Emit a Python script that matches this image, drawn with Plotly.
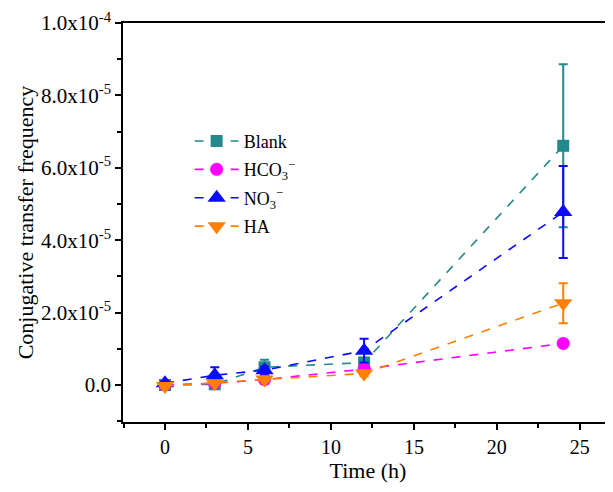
import plotly.graph_objects as go

time_h = [0, 3, 6, 12, 24]

blank = [0.0, 0.2e-6, 4.9e-6, 6.2e-6, 6.61e-5]
blank_err = [0.3e-6, 0.6e-6, 2.1e-6, 1.3e-6, 2.25e-5]

hco3 = [0.0, 0.5e-6, 1.5e-6, 4.4e-6, 1.15e-5]
hco3_err = [0.2e-6, 0.3e-6, 0.5e-6, 0.6e-6, 0.8e-6]

no3 = [0.5e-6, 2.7e-6, 4.1e-6, 9.5e-6, 4.78e-5]
no3_err = [0.5e-6, 2.2e-6, 1.0e-6, 3.3e-6, 1.27e-5]

ha = [-0.3e-6, 0.5e-6, 1.5e-6, 3.2e-6, 2.26e-5]
ha_err = [0.4e-6, 0.5e-6, 0.6e-6, 0.8e-6, 5.5e-6]

y_tickvals = [0, 2e-5, 4e-5, 6e-5, 8e-5, 1e-4]
y_ticktext = ["0.0", "2.0x10<sup>-5</sup>", "4.0x10<sup>-5</sup>", "6.0x10<sup>-5</sup>",
              "8.0x10<sup>-5</sup>", "1.0x10<sup>-4</sup>"]
x_tickvals = [0, 5, 10, 15, 20, 25]

series = [
    ("Blank", blank, blank_err, "#23898b", "square", 12),
    ("HCO<sub>3</sub><sup>−</sup>", hco3, hco3_err, "#ff00ff", "circle", 13),
    ("NO<sub>3</sub><sup>−</sup>", no3, no3_err, "#0a0aff", "triangle-up", 16),
    ("HA", ha, ha_err, "#ff8000", "triangle-down", 16),
]

fig = go.Figure()
for i, (name, vals, err, color, sym, size) in enumerate(series):
    fig.add_trace(go.Scatter(
        x=time_h, y=vals, name=name, mode="lines+markers", legendgroup=f"g{i}",
        line=dict(color=color, width=1.6, dash="dash"),
        marker=dict(symbol=sym, size=size, color=color),
        error_y=dict(type="data", array=err, visible=True, color=color,
                     thickness=2, width=4.5),
    ))

font_family = "Liberation Serif, Times New Roman, serif"
fig.update_layout(
    width=605, height=484,
    margin=dict(l=115, r=0, t=15, b=70),
    plot_bgcolor="white", paper_bgcolor="white",
    font=dict(family=font_family, size=18, color="black"),
    showlegend=True,
    legend=dict(x=0.136, y=0.75, xanchor="left", yanchor="top",
                bgcolor="rgba(0,0,0,0)", font=dict(size=18, family=font_family),
                tracegroupgap=2, itemwidth=44),
    xaxis=dict(
        range=[-2.53, 27.0], tickvals=x_tickvals, automargin=False,
        showline=True, linecolor="black", linewidth=1.5, mirror=True,
        ticks="outside", ticklen=6, tickwidth=1.5, tickcolor="black",
        minor=dict(dtick=2.5, tick0=0, ticks="outside", ticklen=4, tickwidth=1.5, tickcolor="black"),
        showgrid=False, zeroline=False,
        title=dict(text="Time (h)", font=dict(size=22), standoff=0),
        tickfont=dict(size=20),
    ),
    yaxis=dict(
        range=[-1.022e-5, 1.0003e-4], tickvals=y_tickvals, ticktext=y_ticktext, automargin=False,
        ticklabeloverflow="allow",
        showline=True, linecolor="black", linewidth=1.5, mirror=False,
        ticks="outside", ticklen=6, tickwidth=1.5, tickcolor="black",
        minor=dict(tickvals=[-1e-5, 1e-5, 3e-5, 5e-5, 7e-5, 9e-5], ticks="outside",
                   ticklen=4, tickwidth=1.5, tickcolor="black"),
        showgrid=False, zeroline=False,
        title=dict(text="Conjugative transfer frequency", font=dict(size=22), standoff=1),
        tickfont=dict(size=21),
    ),
)

fig.write_html("out.html")
